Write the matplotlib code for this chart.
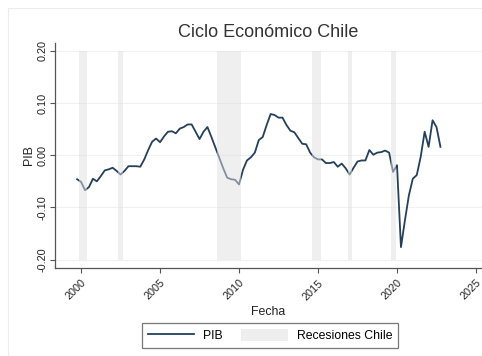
import numpy as np
import matplotlib
matplotlib.use("Agg")
import matplotlib.pyplot as plt
from matplotlib.patches import Patch, Rectangle
from matplotlib.lines import Line2D

plt.rcParams['font.family'] = ['Liberation Sans', 'DejaVu Sans']

# Quarterly cyclical component of GDP (start 1999Q4)
start_year = 1999.75
pib = [-0.046, -0.051, -0.067, -0.061, -0.045, -0.050, -0.040, -0.029, -0.027, -0.024,
       -0.030, -0.037, -0.030, -0.021, -0.021, -0.021, -0.022, -0.008, 0.010, 0.026,
       0.032, 0.025, 0.036, 0.045, 0.046, 0.042, 0.051, 0.054, 0.059, 0.059,
       0.045, 0.031, 0.045, 0.054, 0.035, 0.015, -0.005, -0.025, -0.043, -0.046,
       -0.047, -0.056, -0.028, -0.010, -0.004, 0.005, 0.029, 0.035, 0.058, 0.079,
       0.077, 0.072, 0.072, 0.058, 0.047, 0.044, 0.033, 0.022, 0.021, 0.005,
       -0.004, -0.008, -0.008, -0.015, -0.015, -0.013, -0.022, -0.016, -0.025, -0.037,
       -0.024, -0.012, -0.010, -0.010, 0.010, 0.001, 0.005, 0.006, 0.009, 0.005,
       -0.032, -0.019, -0.176, -0.125, -0.077, -0.045, -0.038, -0.003, 0.045, 0.016,
       0.067, 0.054, 0.016]
fechas = start_year + 0.25 * np.arange(len(pib))

# Recession periods (start, end) in decimal years
recesiones = [(1999.87, 2000.38), (2002.36, 2002.64), (2008.63, 2010.13),
              (2014.64, 2015.17), (2016.88, 2017.13), (2019.62, 2019.92)]
rec_low, rec_high = -0.20, 0.20

yticks = [-0.20, -0.10, 0.00, 0.10, 0.20]
ytick_labels = ['-0.20', '-0.10', '0.00', '0.10', '0.20']
xticks = [2000, 2005, 2010, 2015, 2020, 2025]

W, H = 482, 356
fig = plt.figure(figsize=(W / 100, H / 100), dpi=100)
fig.patch.set_facecolor('white')
fig.patches.append(Rectangle((8 / W, -0.1), 1.2, 1 - 8 / H + 0.1, transform=fig.transFigure,
                             fill=False, edgecolor='#ededed', lw=0.8))

ax = fig.add_axes([55 / W, 1 - 268 / H, (W - 55) / W, (268 - 43) / H])
line_color = '#24405c'
ax.plot(fechas, pib, color=line_color, lw=1.3, zorder=2)
for a, b in recesiones:
    ax.fill_between([a, b], rec_low, rec_high, color='#e0e0e0', alpha=0.5, lw=0, zorder=3)

ax.set_xlim(1998.35, 2025.38)
ax.set_ylim(-0.216, 0.215)
ax.set_yticks(yticks)
ax.set_yticklabels(ytick_labels, rotation=90, va='center', fontsize=7.8)
ax.set_xticks(xticks)
ax.set_xticklabels([str(x) for x in xticks], rotation=45, ha='right',
                   rotation_mode='anchor', fontsize=7.8)
for y in yticks:
    ax.axhline(y, color='#f0f0f0', lw=0.8, zorder=1)

for s in ['top', 'right']:
    ax.spines[s].set_visible(False)
for s in ['left', 'bottom']:
    ax.spines[s].set_color('#555555')
    ax.spines[s].set_linewidth(0.9)
ax.tick_params(axis='both', colors='#555555', labelcolor='#222222', length=3.5, width=0.8)
ax.tick_params(axis='y', pad=2)

ax.set_title('Ciclo Económico Chile', fontsize=13, color='#333333', pad=4)
ax.set_xlabel('Fecha', fontsize=8.9, color='#222222', labelpad=3)
ax.set_ylabel('PIB', fontsize=8.9, color='#222222', labelpad=1.5)

handles = [Line2D([0], [0], color=line_color, lw=1.3),
           Patch(facecolor='#eeeeee', edgecolor='none')]
leg = fig.legend(handles, ['PIB', 'Recesiones Chile'], loc='center',
                 bbox_to_anchor=(270 / W, 1 - 335.5 / H), ncol=2, fontsize=8.8,
                 frameon=True, fancybox=False, handlelength=3.8, handletextpad=0.75,
                 columnspacing=1.5, borderpad=0.45, handleheight=1.1)
leg.get_frame().set_edgecolor('#555555')
leg.get_frame().set_linewidth(0.9)

fig.savefig('out.png', dpi=100, facecolor='white')
